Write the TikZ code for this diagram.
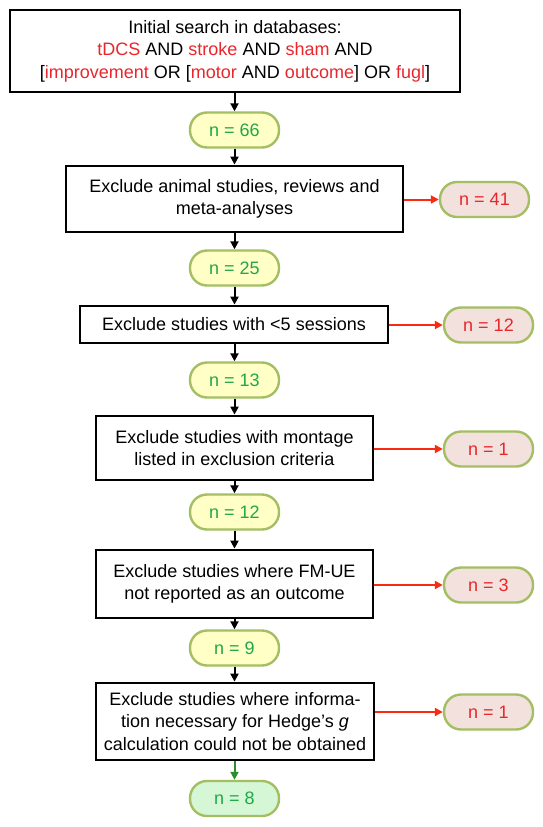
\documentclass[tikz,border=0pt]{standalone}
\usepackage{fontspec}
\setmainfont{Liberation Sans}
\usetikzlibrary{arrows.meta,calc}
\definecolor{kw}{HTML}{E8262B}
\definecolor{gtext}{HTML}{1FA84A}
\definecolor{pillborder}{HTML}{A3BE63}
\definecolor{yfill}{HTML}{FFFFC6}
\definecolor{rfill}{HTML}{F3E1DE}
\definecolor{gfill}{HTML}{D6F7D6}
\definecolor{rarrow}{HTML}{FA2A10}
\definecolor{garrow}{HTML}{2E8B2E}
\tikzset{
  txt/.style={font=\fontsize{18}{22.5}\selectfont},
  stepbox/.style={txt, draw=black, line width=2.8pt, align=center, inner sep=0pt},
  pill/.style={txt, draw=pillborder, line width=2.4pt, rounded corners=17pt, minimum width=89pt, minimum height=35pt, inner sep=0pt},
  gpill/.style={pill, fill=yfill, text=gtext},
  rpill/.style={pill, fill=rfill, text=kw},
  fpill/.style={pill, fill=gfill, text=gtext},
  arr/.style={line width=2pt, -{Triangle[length=8pt,width=8pt]}},
  rarr/.style={arr, draw=rarrow},
}
\newcommand{\kwd}[1]{\textcolor{kw}{#1}}
\begin{document}
\begin{tikzpicture}[x=1pt,y=-1pt]
\useasboundingbox (0,0) rectangle (543,827);

\node[stepbox, minimum width=450pt, minimum height=82pt] (top) at (235,51)
  {Initial search in databases:\\ \kwd{tDCS} AND \kwd{stroke} AND \kwd{sham} AND\\ {[}\kwd{improvement} OR {[}\kwd{motor} AND \kwd{outcome}{]} OR \kwd{fugl}{]}};

\node[gpill] (g66) at (234.5,130) {n = 66};
\node[stepbox, minimum width=337pt, minimum height=66pt] (b2) at (234.5,199)
  {Exclude animal studies, reviews and\\meta-analyses};
\node[rpill] (r41) at (484.5,199.5) {n = 41};

\node[gpill] (g25) at (234.5,268) {n = 25};
\node[stepbox, minimum width=308pt, minimum height=37pt] (b3) at (234,324.5)
  {Exclude studies with <5 sessions};
\node[rpill] (r12) at (488.5,325) {n = 12};

\node[gpill] (g13) at (234.5,380) {n = 13};
\node[stepbox, minimum width=277pt, minimum height=64pt] (b4) at (234.5,448)
  {Exclude studies with montage\\listed in exclusion criteria};
\node[rpill] (r1a) at (488.5,449) {n = 1};

\node[gpill] (g12) at (234.5,512) {n = 12};
\node[stepbox, minimum width=277pt, minimum height=68pt] (b5) at (234.5,584)
  {Exclude studies where FM-UE\\not reported as an outcome};
\node[rpill] (r3) at (488.5,585) {n = 3};

\node[gpill] (g9) at (234.5,648) {n = 9};
\node[stepbox, minimum width=278pt, minimum height=77pt] (b6) at (235,721.5)
  {Exclude studies where informa-\\tion necessary for Hedge’s \textit{g}\\calculation could not be obtained};
\node[rpill] (r1b) at (488.5,712) {n = 1};

\node[fpill] (f8) at (234.5,798.5) {n = 8};

\draw[arr] (top.south -| g66) -- (g66);
\draw[arr] (g66) -- (g66 |- b2.north);
\draw[arr] (b2.south -| g25) -- (g25);
\draw[arr] (g25) -- (g25 |- b3.north);
\draw[arr] (b3.south -| g13) -- (g13);
\draw[arr] (g13) -- (g13 |- b4.north);
\draw[arr] (b4.south -| g12) -- (g12);
\draw[arr] (g12) -- (g12 |- b5.north);
\draw[arr] (b5.south -| g9) -- (g9);
\draw[arr] (g9) -- (g9 |- b6.north);
\draw[arr, draw=garrow] (b6.south -| f8) -- (f8);

\draw[rarr] (b2.east |- r41) -- (r41);
\draw[rarr] (b3.east |- r12) -- (r12);
\draw[rarr] (b4.east |- r1a) -- (r1a);
\draw[rarr] (b5.east |- r3) -- (r3);
\draw[rarr] (b6.east |- r1b) -- (r1b);
\end{tikzpicture}
\end{document}
